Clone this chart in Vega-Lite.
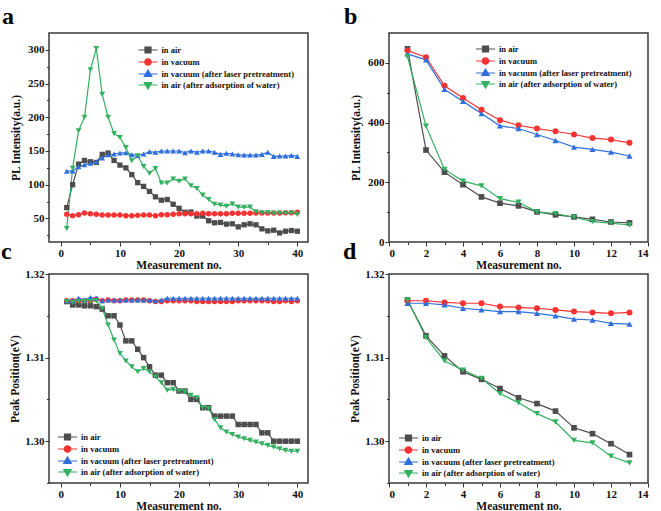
{
  "$schema": "https://vega.github.io/schema/vega-lite/v6.json",
  "padding": {"left": 0, "top": 4, "right": 0, "bottom": 0},
  "columns": 2,
  "spacing": {"row": -33, "column": 33},
  "resolve": {"scale": {"fill": "independent", "stroke": "independent", "shape": "independent"}, "legend": {"fill": "independent", "stroke": "independent", "shape": "independent"}},
  "datasets": {
    "a": [
      {"n":1,"s":"in air","v":66},{"n":2,"s":"in air","v":100},{"n":3,"s":"in air","v":130.5},{"n":4,"s":"in air","v":136},{"n":5,"s":"in air","v":134},{"n":6,"s":"in air","v":133},{"n":7,"s":"in air","v":145},{"n":8,"s":"in air","v":147},{"n":9,"s":"in air","v":136},{"n":10,"s":"in air","v":129},{"n":11,"s":"in air","v":125},{"n":12,"s":"in air","v":115},{"n":13,"s":"in air","v":103},{"n":14,"s":"in air","v":97.5},{"n":15,"s":"in air","v":90},{"n":16,"s":"in air","v":82},{"n":17,"s":"in air","v":77},{"n":18,"s":"in air","v":78},{"n":19,"s":"in air","v":71},{"n":20,"s":"in air","v":65},{"n":21,"s":"in air","v":59},{"n":22,"s":"in air","v":59.5},{"n":23,"s":"in air","v":53.5},{"n":24,"s":"in air","v":53.5},{"n":25,"s":"in air","v":46.5},{"n":26,"s":"in air","v":43.5},{"n":27,"s":"in air","v":44},{"n":28,"s":"in air","v":41.5},{"n":29,"s":"in air","v":42},{"n":30,"s":"in air","v":37.5},{"n":31,"s":"in air","v":40.5},{"n":32,"s":"in air","v":42},{"n":33,"s":"in air","v":40.5},{"n":34,"s":"in air","v":34.5},{"n":35,"s":"in air","v":31.5},{"n":36,"s":"in air","v":32.5},{"n":37,"s":"in air","v":28.5},{"n":38,"s":"in air","v":31},{"n":39,"s":"in air","v":32},{"n":40,"s":"in air","v":31},
      {"n":1,"s":"in vacuum","v":56},{"n":2,"s":"in vacuum","v":54},{"n":3,"s":"in vacuum","v":55.5},{"n":4,"s":"in vacuum","v":58},{"n":5,"s":"in vacuum","v":57},{"n":6,"s":"in vacuum","v":56},{"n":7,"s":"in vacuum","v":55},{"n":8,"s":"in vacuum","v":55},{"n":9,"s":"in vacuum","v":55},{"n":10,"s":"in vacuum","v":55},{"n":11,"s":"in vacuum","v":54},{"n":12,"s":"in vacuum","v":54},{"n":13,"s":"in vacuum","v":54.5},{"n":14,"s":"in vacuum","v":55},{"n":15,"s":"in vacuum","v":55},{"n":16,"s":"in vacuum","v":54},{"n":17,"s":"in vacuum","v":55.5},{"n":18,"s":"in vacuum","v":55.5},{"n":19,"s":"in vacuum","v":56},{"n":20,"s":"in vacuum","v":57},{"n":21,"s":"in vacuum","v":57},{"n":22,"s":"in vacuum","v":57},{"n":23,"s":"in vacuum","v":57},{"n":24,"s":"in vacuum","v":57.5},{"n":25,"s":"in vacuum","v":57},{"n":26,"s":"in vacuum","v":57},{"n":27,"s":"in vacuum","v":57},{"n":28,"s":"in vacuum","v":57},{"n":29,"s":"in vacuum","v":57.5},{"n":30,"s":"in vacuum","v":57.5},{"n":31,"s":"in vacuum","v":57.5},{"n":32,"s":"in vacuum","v":57.5},{"n":33,"s":"in vacuum","v":58},{"n":34,"s":"in vacuum","v":58},{"n":35,"s":"in vacuum","v":58},{"n":36,"s":"in vacuum","v":58},{"n":37,"s":"in vacuum","v":58},{"n":38,"s":"in vacuum","v":58.5},{"n":39,"s":"in vacuum","v":58.5},{"n":40,"s":"in vacuum","v":59},
      {"n":1,"s":"in vacuum (after laser pretreatment)","v":120},{"n":2,"s":"in vacuum (after laser pretreatment)","v":120.5},{"n":3,"s":"in vacuum (after laser pretreatment)","v":126.5},{"n":4,"s":"in vacuum (after laser pretreatment)","v":129.5},{"n":5,"s":"in vacuum (after laser pretreatment)","v":132},{"n":6,"s":"in vacuum (after laser pretreatment)","v":134},{"n":7,"s":"in vacuum (after laser pretreatment)","v":139.5},{"n":8,"s":"in vacuum (after laser pretreatment)","v":144.5},{"n":9,"s":"in vacuum (after laser pretreatment)","v":145.5},{"n":10,"s":"in vacuum (after laser pretreatment)","v":147},{"n":11,"s":"in vacuum (after laser pretreatment)","v":147.5},{"n":12,"s":"in vacuum (after laser pretreatment)","v":144.5},{"n":13,"s":"in vacuum (after laser pretreatment)","v":143.5},{"n":14,"s":"in vacuum (after laser pretreatment)","v":145.5},{"n":15,"s":"in vacuum (after laser pretreatment)","v":149},{"n":16,"s":"in vacuum (after laser pretreatment)","v":148},{"n":17,"s":"in vacuum (after laser pretreatment)","v":150},{"n":18,"s":"in vacuum (after laser pretreatment)","v":150},{"n":19,"s":"in vacuum (after laser pretreatment)","v":150},{"n":20,"s":"in vacuum (after laser pretreatment)","v":150},{"n":21,"s":"in vacuum (after laser pretreatment)","v":147.5},{"n":22,"s":"in vacuum (after laser pretreatment)","v":150},{"n":23,"s":"in vacuum (after laser pretreatment)","v":148},{"n":24,"s":"in vacuum (after laser pretreatment)","v":150},{"n":25,"s":"in vacuum (after laser pretreatment)","v":150},{"n":26,"s":"in vacuum (after laser pretreatment)","v":148},{"n":27,"s":"in vacuum (after laser pretreatment)","v":145},{"n":28,"s":"in vacuum (after laser pretreatment)","v":146.5},{"n":29,"s":"in vacuum (after laser pretreatment)","v":145.5},{"n":30,"s":"in vacuum (after laser pretreatment)","v":144.5},{"n":31,"s":"in vacuum (after laser pretreatment)","v":144},{"n":32,"s":"in vacuum (after laser pretreatment)","v":144},{"n":33,"s":"in vacuum (after laser pretreatment)","v":144},{"n":34,"s":"in vacuum (after laser pretreatment)","v":145},{"n":35,"s":"in vacuum (after laser pretreatment)","v":148},{"n":36,"s":"in vacuum (after laser pretreatment)","v":142},{"n":37,"s":"in vacuum (after laser pretreatment)","v":142.5},{"n":38,"s":"in vacuum (after laser pretreatment)","v":142.5},{"n":39,"s":"in vacuum (after laser pretreatment)","v":143.5},{"n":40,"s":"in vacuum (after laser pretreatment)","v":142},
      {"n":1,"s":"in air (after adsorption of water)","v":35},{"n":2,"s":"in air (after adsorption of water)","v":124.5},{"n":3,"s":"in air (after adsorption of water)","v":180},{"n":4,"s":"in air (after adsorption of water)","v":200},{"n":5,"s":"in air (after adsorption of water)","v":270.5},{"n":6,"s":"in air (after adsorption of water)","v":302},{"n":7,"s":"in air (after adsorption of water)","v":234},{"n":8,"s":"in air (after adsorption of water)","v":200},{"n":9,"s":"in air (after adsorption of water)","v":176},{"n":10,"s":"in air (after adsorption of water)","v":170},{"n":11,"s":"in air (after adsorption of water)","v":155},{"n":12,"s":"in air (after adsorption of water)","v":135.5},{"n":13,"s":"in air (after adsorption of water)","v":143},{"n":14,"s":"in air (after adsorption of water)","v":127},{"n":15,"s":"in air (after adsorption of water)","v":117},{"n":16,"s":"in air (after adsorption of water)","v":124},{"n":17,"s":"in air (after adsorption of water)","v":102.5},{"n":18,"s":"in air (after adsorption of water)","v":102.5},{"n":19,"s":"in air (after adsorption of water)","v":108.5},{"n":20,"s":"in air (after adsorption of water)","v":105},{"n":21,"s":"in air (after adsorption of water)","v":108.5},{"n":22,"s":"in air (after adsorption of water)","v":98.5},{"n":23,"s":"in air (after adsorption of water)","v":94.5},{"n":24,"s":"in air (after adsorption of water)","v":84.5},{"n":25,"s":"in air (after adsorption of water)","v":78},{"n":26,"s":"in air (after adsorption of water)","v":71},{"n":27,"s":"in air (after adsorption of water)","v":70},{"n":28,"s":"in air (after adsorption of water)","v":68},{"n":29,"s":"in air (after adsorption of water)","v":71.5},{"n":30,"s":"in air (after adsorption of water)","v":67},{"n":31,"s":"in air (after adsorption of water)","v":66.5},{"n":32,"s":"in air (after adsorption of water)","v":67},{"n":33,"s":"in air (after adsorption of water)","v":60},{"n":34,"s":"in air (after adsorption of water)","v":58.5},{"n":35,"s":"in air (after adsorption of water)","v":58.5},{"n":36,"s":"in air (after adsorption of water)","v":57.5},{"n":37,"s":"in air (after adsorption of water)","v":57.5},{"n":38,"s":"in air (after adsorption of water)","v":57.5},{"n":39,"s":"in air (after adsorption of water)","v":58},{"n":40,"s":"in air (after adsorption of water)","v":56}
    ],
    "b": [
      {"n":1,"s":"in air","v":647},{"n":2,"s":"in air","v":308},{"n":3,"s":"in air","v":234},{"n":4,"s":"in air","v":192},{"n":5,"s":"in air","v":151},{"n":6,"s":"in air","v":130},{"n":7,"s":"in air","v":121},{"n":8,"s":"in air","v":101},{"n":9,"s":"in air","v":91},{"n":10,"s":"in air","v":84},{"n":11,"s":"in air","v":76},{"n":12,"s":"in air","v":67},{"n":13,"s":"in air","v":64},
      {"n":1,"s":"in vacuum","v":641},{"n":2,"s":"in vacuum","v":619},{"n":3,"s":"in vacuum","v":523},{"n":4,"s":"in vacuum","v":482},{"n":5,"s":"in vacuum","v":443},{"n":6,"s":"in vacuum","v":408},{"n":7,"s":"in vacuum","v":391},{"n":8,"s":"in vacuum","v":380},{"n":9,"s":"in vacuum","v":371},{"n":10,"s":"in vacuum","v":360},{"n":11,"s":"in vacuum","v":348},{"n":12,"s":"in vacuum","v":343},{"n":13,"s":"in vacuum","v":332},
      {"n":1,"s":"in vacuum (after laser pretreatment)","v":630},{"n":2,"s":"in vacuum (after laser pretreatment)","v":610},{"n":3,"s":"in vacuum (after laser pretreatment)","v":511},{"n":4,"s":"in vacuum (after laser pretreatment)","v":471},{"n":5,"s":"in vacuum (after laser pretreatment)","v":430},{"n":6,"s":"in vacuum (after laser pretreatment)","v":389},{"n":7,"s":"in vacuum (after laser pretreatment)","v":380},{"n":8,"s":"in vacuum (after laser pretreatment)","v":360},{"n":9,"s":"in vacuum (after laser pretreatment)","v":340},{"n":10,"s":"in vacuum (after laser pretreatment)","v":318},{"n":11,"s":"in vacuum (after laser pretreatment)","v":310},{"n":12,"s":"in vacuum (after laser pretreatment)","v":301},{"n":13,"s":"in vacuum (after laser pretreatment)","v":288},
      {"n":1,"s":"in air (after adsorption of water)","v":621},{"n":2,"s":"in air (after adsorption of water)","v":388},{"n":3,"s":"in air (after adsorption of water)","v":243},{"n":4,"s":"in air (after adsorption of water)","v":204},{"n":5,"s":"in air (after adsorption of water)","v":188},{"n":6,"s":"in air (after adsorption of water)","v":145},{"n":7,"s":"in air (after adsorption of water)","v":133},{"n":8,"s":"in air (after adsorption of water)","v":101},{"n":9,"s":"in air (after adsorption of water)","v":95},{"n":10,"s":"in air (after adsorption of water)","v":83},{"n":11,"s":"in air (after adsorption of water)","v":68},{"n":12,"s":"in air (after adsorption of water)","v":63},{"n":13,"s":"in air (after adsorption of water)","v":57}
    ],
    "c": [
      {"n":1,"s":"in air","v":1.3167},{"n":2,"s":"in air","v":1.3163},{"n":3,"s":"in air","v":1.3163},{"n":4,"s":"in air","v":1.3162},{"n":5,"s":"in air","v":1.3162},{"n":6,"s":"in air","v":1.3161},{"n":7,"s":"in air","v":1.3158},{"n":8,"s":"in air","v":1.315},{"n":9,"s":"in air","v":1.315},{"n":10,"s":"in air","v":1.3139},{"n":11,"s":"in air","v":1.312},{"n":12,"s":"in air","v":1.312},{"n":13,"s":"in air","v":1.311},{"n":14,"s":"in air","v":1.31},{"n":15,"s":"in air","v":1.3089},{"n":16,"s":"in air","v":1.3079},{"n":17,"s":"in air","v":1.3079},{"n":18,"s":"in air","v":1.307},{"n":19,"s":"in air","v":1.307},{"n":20,"s":"in air","v":1.306},{"n":21,"s":"in air","v":1.306},{"n":22,"s":"in air","v":1.305},{"n":23,"s":"in air","v":1.305},{"n":24,"s":"in air","v":1.304},{"n":25,"s":"in air","v":1.304},{"n":26,"s":"in air","v":1.303},{"n":27,"s":"in air","v":1.303},{"n":28,"s":"in air","v":1.303},{"n":29,"s":"in air","v":1.303},{"n":30,"s":"in air","v":1.302},{"n":31,"s":"in air","v":1.302},{"n":32,"s":"in air","v":1.302},{"n":33,"s":"in air","v":1.302},{"n":34,"s":"in air","v":1.301},{"n":35,"s":"in air","v":1.301},{"n":36,"s":"in air","v":1.3},{"n":37,"s":"in air","v":1.3},{"n":38,"s":"in air","v":1.3},{"n":39,"s":"in air","v":1.3},{"n":40,"s":"in air","v":1.3},
      {"n":1,"s":"in vacuum","v":1.3168},{"n":2,"s":"in vacuum","v":1.3168},{"n":3,"s":"in vacuum","v":1.3168},{"n":4,"s":"in vacuum","v":1.3168},{"n":5,"s":"in vacuum","v":1.3168},{"n":6,"s":"in vacuum","v":1.317},{"n":7,"s":"in vacuum","v":1.3168},{"n":8,"s":"in vacuum","v":1.3169},{"n":9,"s":"in vacuum","v":1.3168},{"n":10,"s":"in vacuum","v":1.3168},{"n":11,"s":"in vacuum","v":1.3169},{"n":12,"s":"in vacuum","v":1.3169},{"n":13,"s":"in vacuum","v":1.3169},{"n":14,"s":"in vacuum","v":1.3169},{"n":15,"s":"in vacuum","v":1.3168},{"n":16,"s":"in vacuum","v":1.3167},{"n":17,"s":"in vacuum","v":1.3167},{"n":18,"s":"in vacuum","v":1.3168},{"n":19,"s":"in vacuum","v":1.3168},{"n":20,"s":"in vacuum","v":1.3168},{"n":21,"s":"in vacuum","v":1.3168},{"n":22,"s":"in vacuum","v":1.3168},{"n":23,"s":"in vacuum","v":1.3167},{"n":24,"s":"in vacuum","v":1.3167},{"n":25,"s":"in vacuum","v":1.3167},{"n":26,"s":"in vacuum","v":1.3167},{"n":27,"s":"in vacuum","v":1.3167},{"n":28,"s":"in vacuum","v":1.3167},{"n":29,"s":"in vacuum","v":1.3167},{"n":30,"s":"in vacuum","v":1.3168},{"n":31,"s":"in vacuum","v":1.3168},{"n":32,"s":"in vacuum","v":1.3168},{"n":33,"s":"in vacuum","v":1.3168},{"n":34,"s":"in vacuum","v":1.3168},{"n":35,"s":"in vacuum","v":1.3168},{"n":36,"s":"in vacuum","v":1.3167},{"n":37,"s":"in vacuum","v":1.3167},{"n":38,"s":"in vacuum","v":1.3168},{"n":39,"s":"in vacuum","v":1.3167},{"n":40,"s":"in vacuum","v":1.3168},
      {"n":1,"s":"in vacuum (after laser pretreatment)","v":1.3168},{"n":2,"s":"in vacuum (after laser pretreatment)","v":1.3168},{"n":3,"s":"in vacuum (after laser pretreatment)","v":1.3171},{"n":4,"s":"in vacuum (after laser pretreatment)","v":1.3169},{"n":5,"s":"in vacuum (after laser pretreatment)","v":1.3172},{"n":6,"s":"in vacuum (after laser pretreatment)","v":1.3171},{"n":7,"s":"in vacuum (after laser pretreatment)","v":1.3168},{"n":8,"s":"in vacuum (after laser pretreatment)","v":1.3169},{"n":9,"s":"in vacuum (after laser pretreatment)","v":1.3169},{"n":10,"s":"in vacuum (after laser pretreatment)","v":1.3169},{"n":11,"s":"in vacuum (after laser pretreatment)","v":1.3169},{"n":12,"s":"in vacuum (after laser pretreatment)","v":1.3169},{"n":13,"s":"in vacuum (after laser pretreatment)","v":1.3169},{"n":14,"s":"in vacuum (after laser pretreatment)","v":1.3169},{"n":15,"s":"in vacuum (after laser pretreatment)","v":1.3169},{"n":16,"s":"in vacuum (after laser pretreatment)","v":1.3168},{"n":17,"s":"in vacuum (after laser pretreatment)","v":1.3169},{"n":18,"s":"in vacuum (after laser pretreatment)","v":1.3171},{"n":19,"s":"in vacuum (after laser pretreatment)","v":1.3171},{"n":20,"s":"in vacuum (after laser pretreatment)","v":1.3171},{"n":21,"s":"in vacuum (after laser pretreatment)","v":1.3171},{"n":22,"s":"in vacuum (after laser pretreatment)","v":1.3171},{"n":23,"s":"in vacuum (after laser pretreatment)","v":1.3171},{"n":24,"s":"in vacuum (after laser pretreatment)","v":1.3171},{"n":25,"s":"in vacuum (after laser pretreatment)","v":1.3171},{"n":26,"s":"in vacuum (after laser pretreatment)","v":1.3171},{"n":27,"s":"in vacuum (after laser pretreatment)","v":1.3171},{"n":28,"s":"in vacuum (after laser pretreatment)","v":1.3171},{"n":29,"s":"in vacuum (after laser pretreatment)","v":1.3171},{"n":30,"s":"in vacuum (after laser pretreatment)","v":1.3171},{"n":31,"s":"in vacuum (after laser pretreatment)","v":1.3171},{"n":32,"s":"in vacuum (after laser pretreatment)","v":1.3171},{"n":33,"s":"in vacuum (after laser pretreatment)","v":1.3171},{"n":34,"s":"in vacuum (after laser pretreatment)","v":1.3171},{"n":35,"s":"in vacuum (after laser pretreatment)","v":1.3171},{"n":36,"s":"in vacuum (after laser pretreatment)","v":1.3171},{"n":37,"s":"in vacuum (after laser pretreatment)","v":1.3171},{"n":38,"s":"in vacuum (after laser pretreatment)","v":1.3171},{"n":39,"s":"in vacuum (after laser pretreatment)","v":1.3171},{"n":40,"s":"in vacuum (after laser pretreatment)","v":1.3171},
      {"n":1,"s":"in air (after adsorption of water)","v":1.3167},{"n":2,"s":"in air (after adsorption of water)","v":1.3166},{"n":3,"s":"in air (after adsorption of water)","v":1.3167},{"n":4,"s":"in air (after adsorption of water)","v":1.3167},{"n":5,"s":"in air (after adsorption of water)","v":1.3167},{"n":6,"s":"in air (after adsorption of water)","v":1.3168},{"n":7,"s":"in air (after adsorption of water)","v":1.3159},{"n":8,"s":"in air (after adsorption of water)","v":1.3139},{"n":9,"s":"in air (after adsorption of water)","v":1.3121},{"n":10,"s":"in air (after adsorption of water)","v":1.3105},{"n":11,"s":"in air (after adsorption of water)","v":1.3096},{"n":12,"s":"in air (after adsorption of water)","v":1.3089},{"n":13,"s":"in air (after adsorption of water)","v":1.3083},{"n":14,"s":"in air (after adsorption of water)","v":1.3087},{"n":15,"s":"in air (after adsorption of water)","v":1.3083},{"n":16,"s":"in air (after adsorption of water)","v":1.3077},{"n":17,"s":"in air (after adsorption of water)","v":1.307},{"n":18,"s":"in air (after adsorption of water)","v":1.3061},{"n":19,"s":"in air (after adsorption of water)","v":1.3062},{"n":20,"s":"in air (after adsorption of water)","v":1.306},{"n":21,"s":"in air (after adsorption of water)","v":1.3059},{"n":22,"s":"in air (after adsorption of water)","v":1.3055},{"n":23,"s":"in air (after adsorption of water)","v":1.3052},{"n":24,"s":"in air (after adsorption of water)","v":1.304},{"n":25,"s":"in air (after adsorption of water)","v":1.3039},{"n":26,"s":"in air (after adsorption of water)","v":1.3026},{"n":27,"s":"in air (after adsorption of water)","v":1.3016},{"n":28,"s":"in air (after adsorption of water)","v":1.3011},{"n":29,"s":"in air (after adsorption of water)","v":1.3008},{"n":30,"s":"in air (after adsorption of water)","v":1.3005},{"n":31,"s":"in air (after adsorption of water)","v":1.3003},{"n":32,"s":"in air (after adsorption of water)","v":1.3001},{"n":33,"s":"in air (after adsorption of water)","v":1.2999},{"n":34,"s":"in air (after adsorption of water)","v":1.2997},{"n":35,"s":"in air (after adsorption of water)","v":1.2995},{"n":36,"s":"in air (after adsorption of water)","v":1.2993},{"n":37,"s":"in air (after adsorption of water)","v":1.2991},{"n":38,"s":"in air (after adsorption of water)","v":1.2989},{"n":39,"s":"in air (after adsorption of water)","v":1.2988},{"n":40,"s":"in air (after adsorption of water)","v":1.2988}
    ],
    "d": [
      {"n":1,"s":"in air","v":1.3169},{"n":2,"s":"in air","v":1.3126},{"n":3,"s":"in air","v":1.3102},{"n":4,"s":"in air","v":1.3083},{"n":5,"s":"in air","v":1.3074},{"n":6,"s":"in air","v":1.3063},{"n":7,"s":"in air","v":1.3052},{"n":8,"s":"in air","v":1.3045},{"n":9,"s":"in air","v":1.3036},{"n":10,"s":"in air","v":1.3016},{"n":11,"s":"in air","v":1.3009},{"n":12,"s":"in air","v":1.2997},{"n":13,"s":"in air","v":1.2984},
      {"n":1,"s":"in vacuum","v":1.3168},{"n":2,"s":"in vacuum","v":1.3168},{"n":3,"s":"in vacuum","v":1.3166},{"n":4,"s":"in vacuum","v":1.3165},{"n":5,"s":"in vacuum","v":1.3165},{"n":6,"s":"in vacuum","v":1.3161},{"n":7,"s":"in vacuum","v":1.316},{"n":8,"s":"in vacuum","v":1.3159},{"n":9,"s":"in vacuum","v":1.3157},{"n":10,"s":"in vacuum","v":1.3155},{"n":11,"s":"in vacuum","v":1.3154},{"n":12,"s":"in vacuum","v":1.3153},{"n":13,"s":"in vacuum","v":1.3154},
      {"n":1,"s":"in vacuum (after laser pretreatment)","v":1.3165},{"n":2,"s":"in vacuum (after laser pretreatment)","v":1.3165},{"n":3,"s":"in vacuum (after laser pretreatment)","v":1.3163},{"n":4,"s":"in vacuum (after laser pretreatment)","v":1.3159},{"n":5,"s":"in vacuum (after laser pretreatment)","v":1.3157},{"n":6,"s":"in vacuum (after laser pretreatment)","v":1.3155},{"n":7,"s":"in vacuum (after laser pretreatment)","v":1.3155},{"n":8,"s":"in vacuum (after laser pretreatment)","v":1.3153},{"n":9,"s":"in vacuum (after laser pretreatment)","v":1.315},{"n":10,"s":"in vacuum (after laser pretreatment)","v":1.3146},{"n":11,"s":"in vacuum (after laser pretreatment)","v":1.3145},{"n":12,"s":"in vacuum (after laser pretreatment)","v":1.3141},{"n":13,"s":"in vacuum (after laser pretreatment)","v":1.314},
      {"n":1,"s":"in air (after adsorption of water)","v":1.3169},{"n":2,"s":"in air (after adsorption of water)","v":1.3124},{"n":3,"s":"in air (after adsorption of water)","v":1.3096},{"n":4,"s":"in air (after adsorption of water)","v":1.3085},{"n":5,"s":"in air (after adsorption of water)","v":1.3075},{"n":6,"s":"in air (after adsorption of water)","v":1.3057},{"n":7,"s":"in air (after adsorption of water)","v":1.3046},{"n":8,"s":"in air (after adsorption of water)","v":1.3033},{"n":9,"s":"in air (after adsorption of water)","v":1.3023},{"n":10,"s":"in air (after adsorption of water)","v":1.3001},{"n":11,"s":"in air (after adsorption of water)","v":1.2998},{"n":12,"s":"in air (after adsorption of water)","v":1.2982},{"n":13,"s":"in air (after adsorption of water)","v":1.2974}
    ]
  },
  "concat": [
    {
      "title": {"text": "a", "dx": -8},
      "width": 259, "height": 209,
      "data": {"name": "a"},
      "encoding": {
        "x": {"field": "n", "type": "quantitative", "scale": {"domain": [-2, 41.8], "nice": false, "zero": false},
          "axis": {"title": "Measurement no.", "values": [0,5,10,15,20,25,30,35,40], "labelExpr": "datum.value % 10 === 0 ? datum.label : ''", "tickSize": {"condition": {"test": "datum.value % 10 === 0", "value": 4}, "value": 2.5}}},
        "y": {"field": "v", "type": "quantitative", "scale": {"domain": [15, 325], "nice": false, "zero": false},
          "axis": {"title": "PL Intensity(a.u.)", "titleX": -28, "values": [25,50,75,100,125,150,175,200,225,250,275,300], "labelExpr": "datum.value % 50 === 0 ? datum.label : ''", "tickSize": {"condition": {"test": "datum.value % 50 === 0", "value": 4}, "value": 2.5}}},
        "color": {"field": "s", "type": "nominal", "legend": null,
          "scale": {"domain": ["in air", "in vacuum", "in vacuum (after laser pretreatment)", "in air (after adsorption of water)"], "range": ["#4d4d4d", "#f53333", "#2f6fdc", "#33b060"]}}
      },
      "layer": [
        {"mark": {"type": "line", "strokeWidth": 1.2}},
        {"transform": [{"filter": "datum.s === 'in air'"}], "mark": {"type": "point", "shape": "square", "filled": true, "size": 28, "opacity": 1}},
        {"transform": [{"filter": "datum.s === 'in vacuum'"}], "mark": {"type": "point", "shape": "circle", "filled": true, "size": 30, "opacity": 1}},
        {"transform": [{"filter": "datum.s === 'in vacuum (after laser pretreatment)'"}], "mark": {"type": "point", "shape": "triangle-up", "filled": true, "size": 34, "opacity": 1}},
        {"transform": [{"filter": "datum.s === 'in air (after adsorption of water)'"}], "mark": {"type": "point", "shape": "triangle-down", "filled": true, "size": 34, "opacity": 1}},
        {"mark": {"type": "point", "filled": true, "opacity": 0},
          "encoding": {
            "fill": {"field": "s", "type": "nominal", "scale": {"domain": ["in air", "in vacuum", "in vacuum (after laser pretreatment)", "in air (after adsorption of water)"], "range": ["#4d4d4d", "#f53333", "#2f6fdc", "#33b060"]}, "legend": {"orient": "none", "legendX": 93, "legendY": 11, "title": null}},
            "stroke": {"field": "s", "type": "nominal", "scale": {"domain": ["in air", "in vacuum", "in vacuum (after laser pretreatment)", "in air (after adsorption of water)"], "range": ["#4d4d4d", "#f53333", "#2f6fdc", "#33b060"]}, "legend": {"orient": "none", "legendX": 93, "legendY": 11, "title": null}},
            "shape": {"field": "s", "type": "nominal", "scale": {"domain": ["in air", "in vacuum", "in vacuum (after laser pretreatment)", "in air (after adsorption of water)"], "range": ["M-1.9,0H1.9M-0.6,-0.6H0.6V0.6H-0.6Z", "M-1.9,0H1.9M-0.65,0A0.65,0.65,0,1,1,0.65,0A0.65,0.65,0,1,1,-0.65,0Z", "M-1.9,0H1.9M0,-0.8L0.75,0.5H-0.75Z", "M-1.9,0H1.9M0,0.8L0.75,-0.5H-0.75Z"]}, "legend": {"orient": "none", "legendX": 93, "legendY": 11, "title": null}}
          }}
      ]
    },
    {
      "title": {"text": "b", "dx": -6},
      "width": 259, "height": 209,
      "data": {"name": "b"},
      "encoding": {
        "x": {"field": "n", "type": "quantitative", "scale": {"domain": [0, 14], "nice": false, "zero": false},
          "axis": {"title": "Measurement no.", "values": [0,1,2,3,4,5,6,7,8,9,10,11,12,13,14], "labelExpr": "datum.value % 2 === 0 ? datum.label : ''", "tickSize": {"condition": {"test": "datum.value % 2 === 0", "value": 4}, "value": 2.5}}},
        "y": {"field": "v", "type": "quantitative", "scale": {"domain": [0, 700], "nice": false, "zero": false},
          "axis": {"title": "PL Intensity(a.u.)", "titleX": -28, "values": [0,100,200,300,400,500,600], "labelExpr": "datum.value % 200 === 0 ? datum.label : ''", "tickSize": {"condition": {"test": "datum.value % 200 === 0", "value": 4}, "value": 2.5}}},
        "color": {"field": "s", "type": "nominal", "legend": null,
          "scale": {"domain": ["in air", "in vacuum", "in vacuum (after laser pretreatment)", "in air (after adsorption of water)"], "range": ["#4d4d4d", "#f53333", "#2f6fdc", "#33b060"]}}
      },
      "layer": [
        {"mark": {"type": "line", "strokeWidth": 1.2}},
        {"transform": [{"filter": "datum.s === 'in air'"}], "mark": {"type": "point", "shape": "square", "filled": true, "size": 32, "opacity": 1}},
        {"transform": [{"filter": "datum.s === 'in vacuum'"}], "mark": {"type": "point", "shape": "circle", "filled": true, "size": 36, "opacity": 1}},
        {"transform": [{"filter": "datum.s === 'in vacuum (after laser pretreatment)'"}], "mark": {"type": "point", "shape": "triangle-up", "filled": true, "size": 38, "opacity": 1}},
        {"transform": [{"filter": "datum.s === 'in air (after adsorption of water)'"}], "mark": {"type": "point", "shape": "triangle-down", "filled": true, "size": 38, "opacity": 1}},
        {"mark": {"type": "point", "filled": true, "opacity": 0},
          "encoding": {
            "fill": {"field": "s", "type": "nominal", "scale": {"domain": ["in air", "in vacuum", "in vacuum (after laser pretreatment)", "in air (after adsorption of water)"], "range": ["#4d4d4d", "#f53333", "#2f6fdc", "#33b060"]}, "legend": {"orient": "none", "legendX": 90.5, "legendY": 10, "title": null}},
            "stroke": {"field": "s", "type": "nominal", "scale": {"domain": ["in air", "in vacuum", "in vacuum (after laser pretreatment)", "in air (after adsorption of water)"], "range": ["#4d4d4d", "#f53333", "#2f6fdc", "#33b060"]}, "legend": {"orient": "none", "legendX": 90.5, "legendY": 10, "title": null}},
            "shape": {"field": "s", "type": "nominal", "scale": {"domain": ["in air", "in vacuum", "in vacuum (after laser pretreatment)", "in air (after adsorption of water)"], "range": ["M-1.9,0H1.9M-0.6,-0.6H0.6V0.6H-0.6Z", "M-1.9,0H1.9M-0.65,0A0.65,0.65,0,1,1,0.65,0A0.65,0.65,0,1,1,-0.65,0Z", "M-1.9,0H1.9M0,-0.8L0.75,0.5H-0.75Z", "M-1.9,0H1.9M0,0.8L0.75,-0.5H-0.75Z"]}, "legend": {"orient": "none", "legendX": 90.5, "legendY": 10, "title": null}}
          }}
      ]
    },
    {
      "title": {"text": "c", "dx": -8},
      "width": 259, "height": 209,
      "data": {"name": "c"},
      "encoding": {
        "x": {"field": "n", "type": "quantitative", "scale": {"domain": [-2, 41.8], "nice": false, "zero": false},
          "axis": {"title": "Measurement no.", "values": [0,5,10,15,20,25,30,35,40], "labelExpr": "datum.value % 10 === 0 ? datum.label : ''", "tickSize": {"condition": {"test": "datum.value % 10 === 0", "value": 4}, "value": 2.5}}},
        "y": {"field": "v", "type": "quantitative", "scale": {"domain": [1.295, 1.32], "nice": false, "zero": false},
          "axis": {"title": "Peak Position(eV)", "titleX": -29, "values": [1.295,1.3,1.305,1.31,1.315,1.32], "format": ".2f", "labelExpr": "round(datum.value*1000) % 10 === 0 ? datum.label : ''", "tickSize": {"condition": {"test": "round(datum.value*1000) % 10 === 0", "value": 4}, "value": 2.5}}},
        "color": {"field": "s", "type": "nominal", "legend": null,
          "scale": {"domain": ["in air", "in vacuum", "in vacuum (after laser pretreatment)", "in air (after adsorption of water)"], "range": ["#4d4d4d", "#f53333", "#2f6fdc", "#33b060"]}}
      },
      "layer": [
        {"mark": {"type": "line", "strokeWidth": 1.2}},
        {"transform": [{"filter": "datum.s === 'in air'"}], "mark": {"type": "point", "shape": "square", "filled": true, "size": 30, "opacity": 1}},
        {"transform": [{"filter": "datum.s === 'in vacuum'"}], "mark": {"type": "point", "shape": "circle", "filled": true, "size": 30, "opacity": 1}},
        {"transform": [{"filter": "datum.s === 'in vacuum (after laser pretreatment)'"}], "mark": {"type": "point", "shape": "triangle-up", "filled": true, "size": 34, "opacity": 1}},
        {"transform": [{"filter": "datum.s === 'in air (after adsorption of water)'"}], "mark": {"type": "point", "shape": "triangle-down", "filled": true, "size": 34, "opacity": 1}},
        {"mark": {"type": "point", "filled": true, "opacity": 0},
          "encoding": {
            "fill": {"field": "s", "type": "nominal", "scale": {"domain": ["in air", "in vacuum", "in vacuum (after laser pretreatment)", "in air (after adsorption of water)"], "range": ["#4d4d4d", "#f53333", "#2f6fdc", "#33b060"]}, "legend": {"orient": "none", "legendX": 12.5, "legendY": 157, "title": null}},
            "stroke": {"field": "s", "type": "nominal", "scale": {"domain": ["in air", "in vacuum", "in vacuum (after laser pretreatment)", "in air (after adsorption of water)"], "range": ["#4d4d4d", "#f53333", "#2f6fdc", "#33b060"]}, "legend": {"orient": "none", "legendX": 12.5, "legendY": 157, "title": null}},
            "shape": {"field": "s", "type": "nominal", "scale": {"domain": ["in air", "in vacuum", "in vacuum (after laser pretreatment)", "in air (after adsorption of water)"], "range": ["M-1.9,0H1.9M-0.6,-0.6H0.6V0.6H-0.6Z", "M-1.9,0H1.9M-0.65,0A0.65,0.65,0,1,1,0.65,0A0.65,0.65,0,1,1,-0.65,0Z", "M-1.9,0H1.9M0,-0.8L0.75,0.5H-0.75Z", "M-1.9,0H1.9M0,0.8L0.75,-0.5H-0.75Z"]}, "legend": {"orient": "none", "legendX": 12.5, "legendY": 157, "title": null}}
          }}
      ]
    },
    {
      "title": {"text": "d", "dx": -6},
      "width": 259, "height": 209,
      "data": {"name": "d"},
      "encoding": {
        "x": {"field": "n", "type": "quantitative", "scale": {"domain": [0, 14], "nice": false, "zero": false},
          "axis": {"title": "Measurement no.", "values": [0,1,2,3,4,5,6,7,8,9,10,11,12,13,14], "labelExpr": "datum.value % 2 === 0 ? datum.label : ''", "tickSize": {"condition": {"test": "datum.value % 2 === 0", "value": 4}, "value": 2.5}}},
        "y": {"field": "v", "type": "quantitative", "scale": {"domain": [1.295, 1.32], "nice": false, "zero": false},
          "axis": {"title": "Peak Position(eV)", "titleX": -29, "values": [1.295,1.3,1.305,1.31,1.315,1.32], "format": ".2f", "labelExpr": "round(datum.value*1000) % 10 === 0 ? datum.label : ''", "tickSize": {"condition": {"test": "round(datum.value*1000) % 10 === 0", "value": 4}, "value": 2.5}}},
        "color": {"field": "s", "type": "nominal", "legend": null,
          "scale": {"domain": ["in air", "in vacuum", "in vacuum (after laser pretreatment)", "in air (after adsorption of water)"], "range": ["#4d4d4d", "#f53333", "#2f6fdc", "#33b060"]}}
      },
      "layer": [
        {"mark": {"type": "line", "strokeWidth": 1.2}},
        {"transform": [{"filter": "datum.s === 'in air'"}], "mark": {"type": "point", "shape": "square", "filled": true, "size": 32, "opacity": 1}},
        {"transform": [{"filter": "datum.s === 'in vacuum'"}], "mark": {"type": "point", "shape": "circle", "filled": true, "size": 36, "opacity": 1}},
        {"transform": [{"filter": "datum.s === 'in vacuum (after laser pretreatment)'"}], "mark": {"type": "point", "shape": "triangle-up", "filled": true, "size": 38, "opacity": 1}},
        {"transform": [{"filter": "datum.s === 'in air (after adsorption of water)'"}], "mark": {"type": "point", "shape": "triangle-down", "filled": true, "size": 38, "opacity": 1}},
        {"mark": {"type": "point", "filled": true, "opacity": 0},
          "encoding": {
            "fill": {"field": "s", "type": "nominal", "scale": {"domain": ["in air", "in vacuum", "in vacuum (after laser pretreatment)", "in air (after adsorption of water)"], "range": ["#4d4d4d", "#f53333", "#2f6fdc", "#33b060"]}, "legend": {"orient": "none", "legendX": 13.5, "legendY": 158, "title": null}},
            "stroke": {"field": "s", "type": "nominal", "scale": {"domain": ["in air", "in vacuum", "in vacuum (after laser pretreatment)", "in air (after adsorption of water)"], "range": ["#4d4d4d", "#f53333", "#2f6fdc", "#33b060"]}, "legend": {"orient": "none", "legendX": 13.5, "legendY": 158, "title": null}},
            "shape": {"field": "s", "type": "nominal", "scale": {"domain": ["in air", "in vacuum", "in vacuum (after laser pretreatment)", "in air (after adsorption of water)"], "range": ["M-1.9,0H1.9M-0.6,-0.6H0.6V0.6H-0.6Z", "M-1.9,0H1.9M-0.65,0A0.65,0.65,0,1,1,0.65,0A0.65,0.65,0,1,1,-0.65,0Z", "M-1.9,0H1.9M0,-0.8L0.75,0.5H-0.75Z", "M-1.9,0H1.9M0,0.8L0.75,-0.5H-0.75Z"]}, "legend": {"orient": "none", "legendX": 13.5, "legendY": 158, "title": null}}
          }}
      ]
    }
  ],
  "config": {
    "font": "Liberation Serif",
    "background": "white",
    "view": {"stroke": "#3a3a3a", "strokeWidth": 1.5},
    "axis": {"grid": false, "domain": false, "labelFont": "Liberation Serif", "labelFontWeight": "bold", "labelFontSize": 11, "labelColor": "#111", "labelPadding": 1, "titleFont": "Liberation Serif", "titleFontWeight": "bold", "titleFontSize": 11.5, "titleColor": "#111", "titlePadding": 1, "tickColor": "#333", "tickWidth": 1},
    "legend": {"labelFont": "Liberation Serif", "labelFontWeight": "bold", "labelFontSize": 8.5, "labelColor": "#111", "symbolSize": 100, "symbolStrokeWidth": 1.2, "symbolOpacity": 1, "rowPadding": -3, "padding": 0, "labelOffset": 7.5, "labelLimit": 300},
    "title": {"font": "Liberation Serif", "fontSize": 24, "fontWeight": "bold", "anchor": "start", "frame": "bounds", "offset": 4, "color": "#000"}
  }
}
